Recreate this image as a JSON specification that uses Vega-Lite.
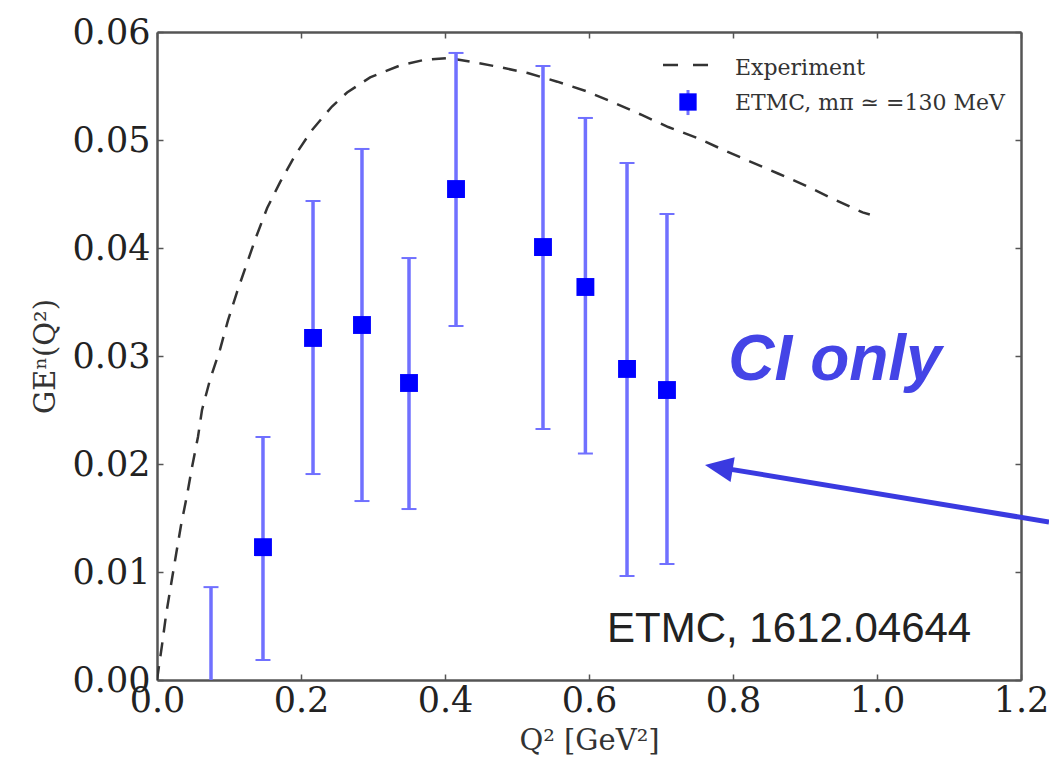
{
  "$schema": "https://vega.github.io/schema/vega-lite/v6.json",
  "width": 864,
  "height": 648,
  "autosize": {"type": "none"},
  "padding": {"left": 157, "top": 32, "right": 28, "bottom": 97},
  "background": "white",
  "config": {
    "view": {"stroke": null},
    "axis": {
      "grid": false,
      "domainColor": "#555",
      "domainWidth": 2.5,
      "tickColor": "#555",
      "tickWidth": 1.5,
      "tickSize": -6,
      "labelFont": "DejaVu Serif",
      "labelFontSize": 35,
      "labelColor": "#222",
      "labelFlush": false,
      "labelOverlap": false,
      "titleFont": "DejaVu Serif",
      "titleFontSize": 29,
      "titleFontWeight": "normal",
      "titleColor": "#333"
    }
  },
  "datasets": {
    "curve": [
      {"q2": 0.0, "ge": 0.0},
      {"q2": 0.0069, "ge": 0.0032},
      {"q2": 0.0125, "ge": 0.006},
      {"q2": 0.0194, "ge": 0.0088},
      {"q2": 0.0264, "ge": 0.0116},
      {"q2": 0.0333, "ge": 0.0143},
      {"q2": 0.0417, "ge": 0.0171},
      {"q2": 0.0486, "ge": 0.0197},
      {"q2": 0.0569, "ge": 0.0225},
      {"q2": 0.0625, "ge": 0.025},
      {"q2": 0.0736, "ge": 0.0278},
      {"q2": 0.0875, "ge": 0.0306},
      {"q2": 0.0986, "ge": 0.0333},
      {"q2": 0.111, "ge": 0.0359},
      {"q2": 0.125, "ge": 0.0386},
      {"q2": 0.1375, "ge": 0.041},
      {"q2": 0.153, "ge": 0.0437},
      {"q2": 0.171, "ge": 0.0461},
      {"q2": 0.192, "ge": 0.0486},
      {"q2": 0.215, "ge": 0.0509},
      {"q2": 0.243, "ge": 0.0531},
      {"q2": 0.264, "ge": 0.0544},
      {"q2": 0.296, "ge": 0.0558},
      {"q2": 0.3375, "ge": 0.0569},
      {"q2": 0.37, "ge": 0.0574},
      {"q2": 0.405, "ge": 0.0576},
      {"q2": 0.44, "ge": 0.0572},
      {"q2": 0.472, "ge": 0.0568},
      {"q2": 0.515, "ge": 0.0562},
      {"q2": 0.556, "ge": 0.0554},
      {"q2": 0.597, "ge": 0.0545},
      {"q2": 0.633, "ge": 0.0535},
      {"q2": 0.674, "ge": 0.0523},
      {"q2": 0.71, "ge": 0.0512},
      {"q2": 0.75, "ge": 0.0502},
      {"q2": 0.786, "ge": 0.0491},
      {"q2": 0.824, "ge": 0.048},
      {"q2": 0.8625, "ge": 0.0469},
      {"q2": 0.9, "ge": 0.0458},
      {"q2": 0.9375, "ge": 0.0446},
      {"q2": 0.98, "ge": 0.0433},
      {"q2": 0.99, "ge": 0.0431}
    ],
    "pts": [
      {"q2": 0.075, "ge": -0.003, "lo": -0.015, "hi": 0.0086},
      {"q2": 0.1472, "ge": 0.0123, "lo": 0.00185, "hi": 0.0225},
      {"q2": 0.2167, "ge": 0.03167, "lo": 0.01907, "hi": 0.04435},
      {"q2": 0.2847, "ge": 0.03287, "lo": 0.01657, "hi": 0.04917},
      {"q2": 0.35, "ge": 0.0275, "lo": 0.01583, "hi": 0.03907},
      {"q2": 0.4153, "ge": 0.04546, "lo": 0.03278, "hi": 0.05806},
      {"q2": 0.5361, "ge": 0.04009, "lo": 0.02324, "hi": 0.05685},
      {"q2": 0.595, "ge": 0.03639, "lo": 0.02097, "hi": 0.05204},
      {"q2": 0.6528, "ge": 0.0288, "lo": 0.00963, "hi": 0.04787},
      {"q2": 0.7083, "ge": 0.02685, "lo": 0.01074, "hi": 0.04315}
    ],
    "legLine": [{"x1": 0.7028, "x2": 0.768, "y": 0.05694}],
    "legPt": [{"x": 0.7375, "y": 0.05352, "lo": 0.05231, "hi": 0.05463}],
    "legText": [
      {"x": 0.8028, "y": 0.05602, "t": "Experiment"},
      {"x": 0.8028, "y": 0.05278, "t": "ETMC, mπ ≃ =130 MeV"}
    ],
    "ci": [{"x": 0.9417, "y": 0.0278, "t": "CI only"}],
    "ref": [{"x": 0.625, "y": 0.00352, "t": "ETMC, 1612.04644"}],
    "arrow": [{"x1": 0.7803, "y1": 0.01969, "x2": 1.2389, "y2": 0.01463}]
  },
  "layer": [
    {
      "data": {"name": "curve"},
      "mark": {"type": "line", "stroke": "#333", "strokeWidth": 2.5, "strokeDash": [14, 10], "clip": true},
      "encoding": {
        "x": {"field": "q2", "type": "quantitative", "scale": {"domain": [0, 1.2], "nice": false, "zero": false},
          "axis": {"orient": "bottom", "values": [0, 0.2, 0.4, 0.6, 0.8, 1.0, 1.2], "format": ".1f", "title": "Q² [GeV²]", "labelPadding": 9, "titlePadding": 8}},
        "y": {"field": "ge", "type": "quantitative", "scale": {"domain": [0, 0.06], "nice": false, "zero": false},
          "axis": {"orient": "left", "values": [0, 0.01, 0.02, 0.03, 0.04, 0.05, 0.06], "format": ".2f", "title": "GEⁿ(Q²)", "labelPadding": 13, "titlePadding": 12}}
      }
    },
    {
      "data": {"name": "pts"},
      "mark": {"type": "rule", "stroke": "#7070ff", "strokeWidth": 3.5, "clip": true},
      "encoding": {
        "x": {"field": "q2", "type": "quantitative", "scale": {"domain": [0, 1.2], "nice": false, "zero": false},
          "axis": {"orient": "top", "values": [0, 0.2, 0.4, 0.6, 0.8, 1.0, 1.2], "labels": false, "title": null}},
        "y": {"field": "lo", "type": "quantitative", "scale": {"domain": [0, 0.06], "nice": false, "zero": false},
          "axis": {"orient": "right", "values": [0, 0.01, 0.02, 0.03, 0.04, 0.05, 0.06], "labels": false, "title": null}},
        "y2": {"field": "hi"}
      }
    },
    {
      "data": {"name": "pts"},
      "mark": {"type": "tick", "orient": "horizontal", "color": "#7070ff", "size": 15, "thickness": 2, "opacity": 1, "clip": true},
      "encoding": {
        "x": {"field": "q2", "type": "quantitative", "scale": {"domain": [0, 1.2], "nice": false, "zero": false}, "axis": null},
        "y": {"field": "hi", "type": "quantitative", "scale": {"domain": [0, 0.06], "nice": false, "zero": false}, "axis": null}
      }
    },
    {
      "data": {"name": "pts"},
      "mark": {"type": "tick", "orient": "horizontal", "color": "#7070ff", "size": 15, "thickness": 2, "opacity": 1, "clip": true},
      "encoding": {
        "x": {"field": "q2", "type": "quantitative", "scale": {"domain": [0, 1.2], "nice": false, "zero": false}, "axis": null},
        "y": {"field": "lo", "type": "quantitative", "scale": {"domain": [0, 0.06], "nice": false, "zero": false}, "axis": null}
      }
    },
    {
      "data": {"name": "pts"},
      "mark": {"type": "point", "shape": "square", "filled": true, "size": 320, "color": "#0000ff", "opacity": 1, "clip": true},
      "encoding": {
        "x": {"field": "q2", "type": "quantitative", "scale": {"domain": [0, 1.2], "nice": false, "zero": false}, "axis": null},
        "y": {"field": "ge", "type": "quantitative", "scale": {"domain": [0, 0.06], "nice": false, "zero": false}, "axis": null}
      }
    },
    {
      "data": {"name": "legLine"},
      "mark": {"type": "rule", "stroke": "#333", "strokeWidth": 2.5, "strokeDash": [15, 15]},
      "encoding": {
        "x": {"field": "x1", "type": "quantitative", "scale": {"domain": [0, 1.2], "nice": false, "zero": false}, "axis": null},
        "x2": {"field": "x2"},
        "y": {"field": "y", "type": "quantitative", "scale": {"domain": [0, 0.06], "nice": false, "zero": false}, "axis": null}
      }
    },
    {
      "data": {"name": "legPt"},
      "mark": {"type": "rule", "stroke": "#7070ff", "strokeWidth": 3},
      "encoding": {
        "x": {"field": "x", "type": "quantitative", "scale": {"domain": [0, 1.2], "nice": false, "zero": false}, "axis": null},
        "y": {"field": "lo", "type": "quantitative", "scale": {"domain": [0, 0.06], "nice": false, "zero": false}, "axis": null},
        "y2": {"field": "hi"}
      }
    },
    {
      "data": {"name": "legPt"},
      "mark": {"type": "point", "shape": "square", "filled": true, "size": 300, "color": "#0000ff", "opacity": 1},
      "encoding": {
        "x": {"field": "x", "type": "quantitative", "scale": {"domain": [0, 1.2], "nice": false, "zero": false}, "axis": null},
        "y": {"field": "y", "type": "quantitative", "scale": {"domain": [0, 0.06], "nice": false, "zero": false}, "axis": null}
      }
    },
    {
      "data": {"name": "legText"},
      "mark": {"type": "text", "font": "DejaVu Serif", "fontSize": 22, "fontWeight": "normal", "color": "#333", "align": "left", "baseline": "alphabetic"},
      "encoding": {
        "x": {"field": "x", "type": "quantitative", "scale": {"domain": [0, 1.2], "nice": false, "zero": false}, "axis": null},
        "y": {"field": "y", "type": "quantitative", "scale": {"domain": [0, 0.06], "nice": false, "zero": false}, "axis": null},
        "text": {"field": "t"}
      }
    },
    {
      "data": {"name": "ci"},
      "mark": {"type": "text", "font": "Liberation Sans", "fontSize": 64, "fontWeight": "bold", "fontStyle": "italic", "color": "#4444e6", "align": "center", "baseline": "alphabetic"},
      "encoding": {
        "x": {"field": "x", "type": "quantitative", "scale": {"domain": [0, 1.2], "nice": false, "zero": false}, "axis": null},
        "y": {"field": "y", "type": "quantitative", "scale": {"domain": [0, 0.06], "nice": false, "zero": false}, "axis": null},
        "text": {"field": "t"}
      }
    },
    {
      "data": {"name": "ref"},
      "mark": {"type": "text", "font": "Liberation Sans", "fontSize": 42, "color": "#222", "align": "left", "baseline": "alphabetic"},
      "encoding": {
        "x": {"field": "x", "type": "quantitative", "scale": {"domain": [0, 1.2], "nice": false, "zero": false}, "axis": null},
        "y": {"field": "y", "type": "quantitative", "scale": {"domain": [0, 0.06], "nice": false, "zero": false}, "axis": null},
        "text": {"field": "t"}
      }
    },
    {
      "data": {"name": "arrow"},
      "mark": {"type": "rule", "stroke": "#3a3ae0", "strokeWidth": 5},
      "encoding": {
        "x": {"field": "x1", "type": "quantitative", "scale": {"domain": [0, 1.2], "nice": false, "zero": false}, "axis": null},
        "x2": {"field": "x2"},
        "y": {"field": "y1", "type": "quantitative", "scale": {"domain": [0, 0.06], "nice": false, "zero": false}, "axis": null},
        "y2": {"field": "y2"}
      }
    },
    {
      "data": {"name": "arrow"},
      "mark": {"type": "point", "shape": "M-1,0L1,-0.9L1,0.9Z", "filled": true, "size": 784, "angle": 9.4, "color": "#3a3ae0", "opacity": 1},
      "encoding": {
        "x": {"field": "x1", "type": "quantitative", "scale": {"domain": [0, 1.2], "nice": false, "zero": false}, "axis": null},
        "y": {"field": "y1", "type": "quantitative", "scale": {"domain": [0, 0.06], "nice": false, "zero": false}, "axis": null}
      }
    }
  ],
  "resolve": {"axis": {"x": "independent", "y": "independent"}}
}
